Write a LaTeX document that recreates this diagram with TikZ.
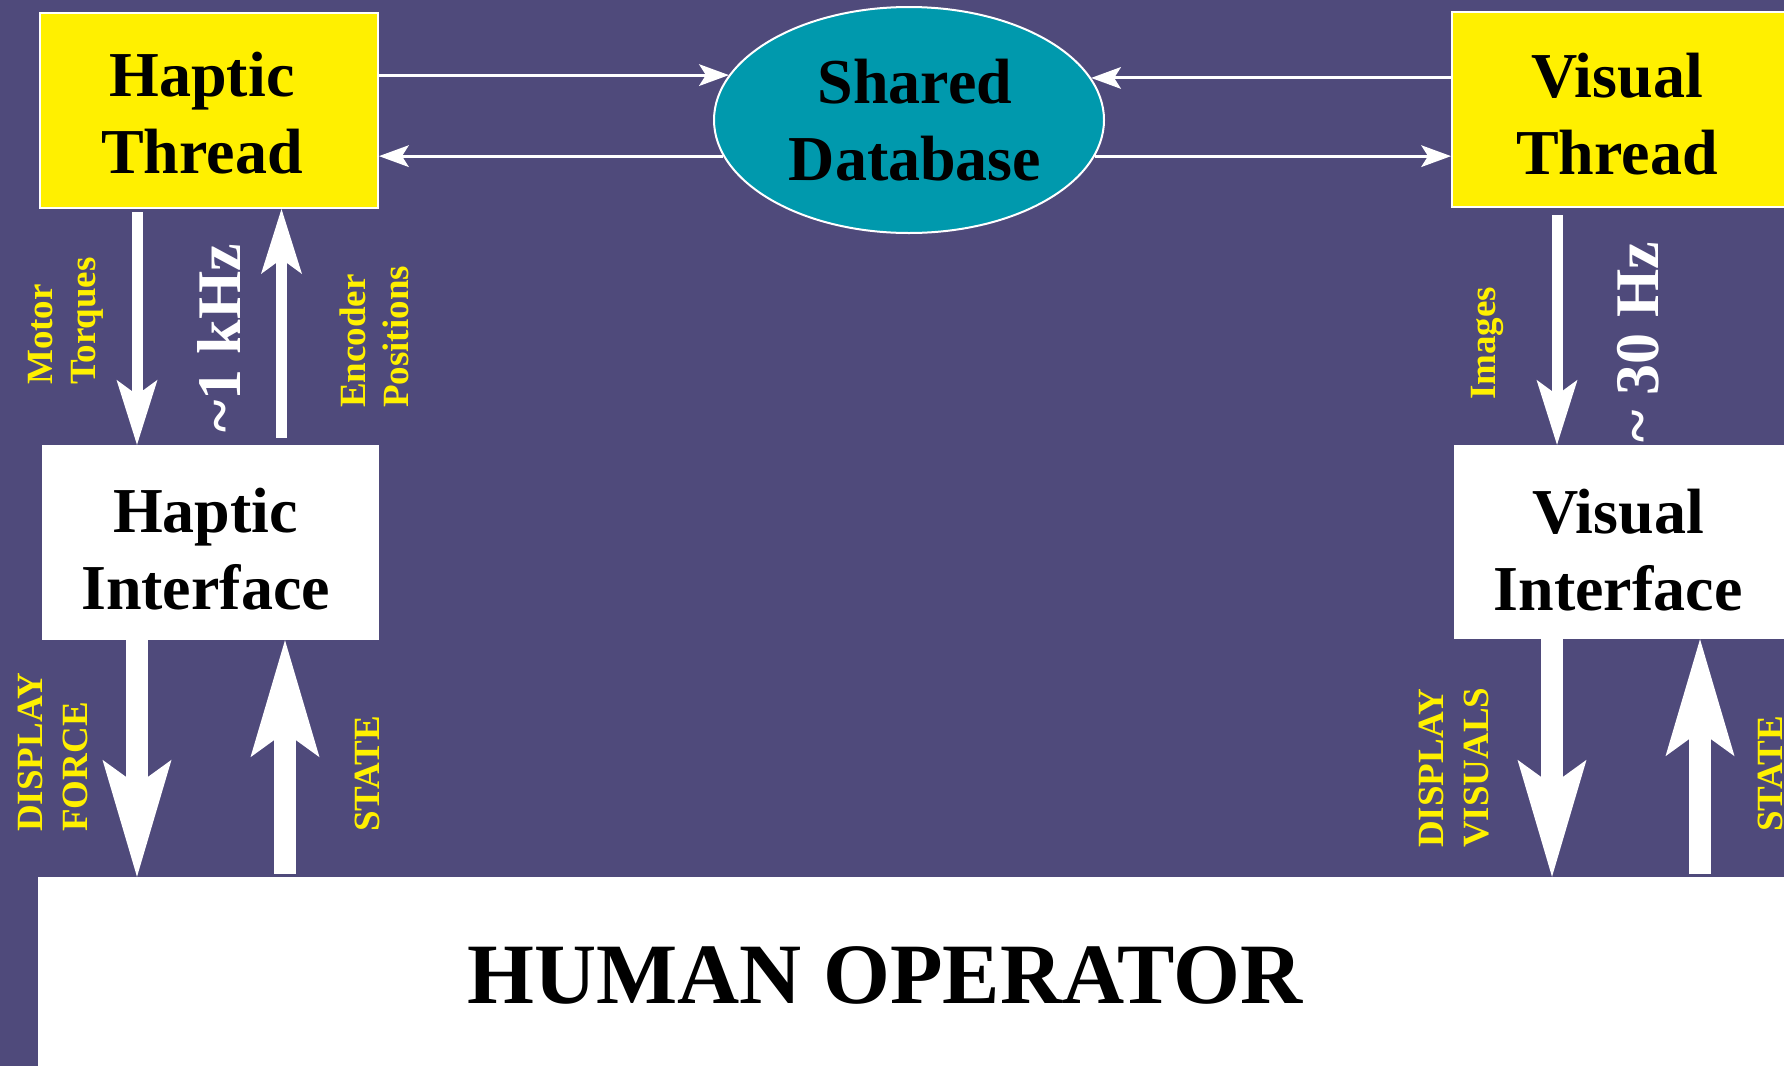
\documentclass[tikz,border=0pt]{standalone}
\usepackage{fontspec}
\setmainfont{Liberation Serif}
\usetikzlibrary{arrows.meta,shapes.geometric}
\definecolor{bgpurple}{RGB}{79,74,123}
\definecolor{threadyellow}{RGB}{255,240,0}
\definecolor{dbteal}{RGB}{0,153,173}
\definecolor{labelyellow}{RGB}{255,240,0}
\newcommand{\bigfnt}{\fontsize{64}{77}\selectfont\bfseries}
\newcommand{\smallfnt}{\fontsize{37}{43}\selectfont\bfseries}
\newcommand{\freqfnt}{\fontsize{62}{70}\selectfont\bfseries}
\newcommand{\hofnt}{\fontsize{86}{90}\selectfont\bfseries}
\tikzset{
  threadbox/.style={rectangle, fill=threadyellow, draw=white, line width=2pt, inner sep=0pt},
  ifacebox/.style={rectangle, fill=white, inner sep=0pt},
  dbnode/.style={ellipse, fill=dbteal, draw=white, line width=2pt, inner sep=0pt},
  boxtext/.style={align=center, font=\bigfnt, text=black, inner sep=0pt},
  vlabel/.style={rotate=90, anchor=base west, inner sep=0pt, text=labelyellow, font=\smallfnt},
  freqlabel/.style={rotate=90, anchor=base west, inner sep=0pt, text=white, font=\freqfnt},
  harrow/.style={draw=white, line width=3pt, -{Stealth[length=30pt,width=22pt,inset=7pt,line width=0pt]}},
  thinvarrow/.style={draw=white, line width=11pt, -{Stealth[length=65pt,width=41pt,inset=15pt,line width=0pt]}},
  bigvarrow/.style={draw=white, line width=22pt, -{Stealth[length=117pt,width=69pt,inset=25pt,line width=0pt]}},
}
\begin{document}
\begin{tikzpicture}[x=1pt,y=-1pt]
\useasboundingbox (0,0) rectangle (1784,1066);
\clip (0,0) rectangle (1784,1066);
\fill[bgpurple] (0,0) rectangle (1784,1066);

% boxes
\node[threadbox, minimum width=338pt, minimum height=195pt,
  label={[boxtext, xshift=-7pt, yshift=-3pt]center:{Haptic\\Thread}}] (HT) at (209,110.5) {};
\node[threadbox, minimum width=340pt, minimum height=195pt,
  label={[boxtext, xshift=-5pt, yshift=-5pt]center:{Visual\\Thread}}] (VT) at (1622,109.5) {};
\node[dbnode, minimum width=390pt, minimum height=226pt,
  label={[boxtext, xshift=6pt]center:{Shared\\Database}}] (DB) at (909,120) {};
\node[ifacebox, minimum width=337pt, minimum height=195pt,
  label={[boxtext, xshift=-5pt, yshift=-7pt]center:{Haptic\\Interface}}] (HI) at (210.5,542.5) {};
\node[ifacebox, minimum width=340pt, minimum height=194pt,
  label={[boxtext, xshift=-6pt, yshift=-8pt]center:{Visual\\Interface}}] (VI) at (1624,542) {};
\node[rectangle, fill=white, inner sep=0pt, minimum width=1762pt, minimum height=203pt] (HO) at (919,978.5) {};
\node[font=\hofnt, text=black, inner sep=0pt, anchor=base] (HOtext) at (885,1003) {HUMAN OPERATOR};

% columns for vertical connectors
\coordinate (c1) at (137,0);
\coordinate (c2) at (281.5,0);
\coordinate (c3) at (1557,0);
\coordinate (c4) at (137,0);
\coordinate (c5) at (285,0);
\coordinate (c6) at (1552,0);
\coordinate (c7) at (1700,0);

% horizontal connectors
\draw[harrow] (HT.east |- DB.166.6) -- (DB.166.6);
\draw[harrow] (DB.191) -- (HT.east |- DB.191);
\draw[harrow] (VT.west |- DB.13.8) -- (DB.13.8);
\draw[harrow] (DB.349.6) -- (VT.west |- DB.349.6);

% vertical connectors
\draw[thinvarrow, shorten <=3pt] (HT.south -| c1) -- (HI.north -| c1);
\draw[thinvarrow, shorten <=7pt] (HI.north -| c2) -- (HT.south -| c2);
\draw[thinvarrow, shorten <=7pt] (VT.south -| c3) -- (VI.north -| c3);
\draw[bigvarrow] (HI.south -| c4) -- (HO.north -| c4);
\draw[bigvarrow, shorten <=3pt] (HO.north -| c5) -- (HI.south -| c5);
\draw[bigvarrow] (VI.south -| c6) -- (HO.north -| c6);
\draw[bigvarrow, shorten <=3pt] (HO.north -| c7) -- (VI.south -| c7);

% labels
\node[vlabel] (motor) at (52,385) {Motor};
\node[vlabel] (torques) at (95,385) {Torques};
\node[freqlabel] (khz) at (240,433) {\textasciitilde1 kHz};
\node[vlabel] (encoder) at (365,408) {Encoder};
\node[vlabel] (positions) at (408,408) {Positions};
\node[vlabel] (images) at (1495,400) {Images};
\node[freqlabel] (hz) at (1658,443) {\textasciitilde\ 30 Hz};
\node[vlabel] (disp1) at (42,832) {DISPLAY};
\node[vlabel] (force) at (87,832) {FORCE};
\node[vlabel] (state1) at (379,832) {STATE};
\node[vlabel] (disp2) at (1443,848) {DISPLAY};
\node[vlabel] (visuals) at (1488,848) {VISUALS};
\node[vlabel] (state2) at (1782,832) {STATE};
\end{tikzpicture}
\end{document}
